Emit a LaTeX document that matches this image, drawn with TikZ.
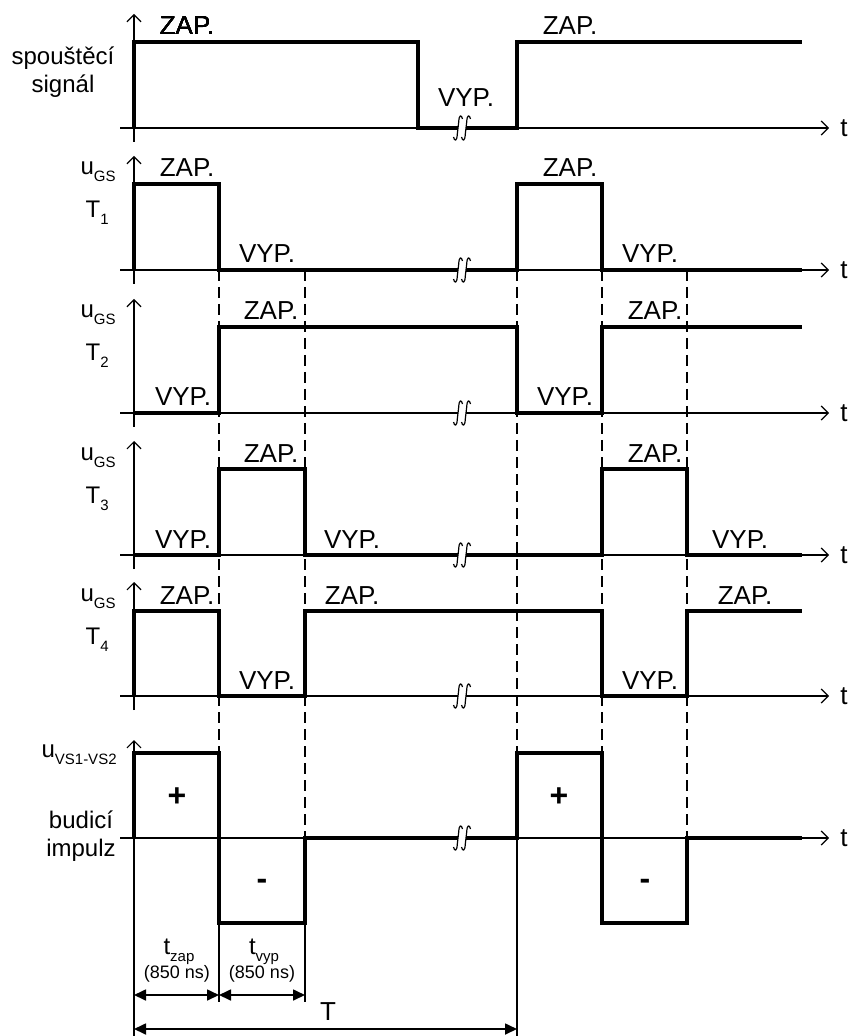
\documentclass[tikz,border=0pt]{standalone}
\usepackage{fontspec}
\setmainfont{Liberation Sans}
\usetikzlibrary{arrows.meta}

\newcommand{\lowsub}[1]{\raisebox{-3.5pt}{\fontsize{7.5}{8}\selectfont #1}}
% break mark on a time axis
\newcommand{\breakmark}[2]{%
  \begin{scope}[shift={(#1,#2)}]
    \fill[white] (-4,-2.5) rectangle (4,2.5);
    \foreach \dx in {-4,4}
      \draw[line width=0.6pt, shift={(\dx,0)}] (-4.5,9) .. controls (-3.5,13.5) and (-1,13.5) .. (-0.7,6) -- (0.7,-6) .. controls (1,-13.5) and (3.5,-13.5) .. (4.5,-9);
  \end{scope}}

\begin{document}
\begin{tikzpicture}[x=0.5pt, y=-0.5pt,
    axis/.style={line width=0.6pt, -{Straight Barb[length=3.5pt,width=7pt]}},
    sig/.style={line width=1.6pt},
    guide/.style={line width=1.3pt, dash pattern=on 5.5pt off 3pt},
    ext/.style={line width=0.6pt},
    dim/.style={line width=0.85pt, {Triangle[length=6pt,width=5.5pt]}-{Triangle[length=6pt,width=5.5pt]}},
    lbl/.style={anchor=base, inner sep=0pt},
    state/.style={lbl, font=\fontsize{13}{15}\selectfont},
    sign/.style={font=\fontsize{16}{16}\selectfont\bfseries},
    every node/.style={font=\fontsize{12}{14}\selectfont}]
    \useasboundingbox (0,0) rectangle (851,1036);
    % Axes
    \foreach \n/\y/\ytop/\ybot in {1/128/14/142, 2/270/156/284, 3/413/299/427, 4/555/441/569, 5/696/582/710, 6/838/740/1036} {
        \draw[axis] (120,\y) -- (829,\y);
        \node[inner sep=0pt, font=\fontsize{13}{15}\selectfont] (t\n) at (844,\y) {t};
        \draw[axis] (134,\ybot) -- (134,\ytop);
    }
    % Dashed guides
    \draw[guide] (219,270) -- (219,753);
    \draw[guide] (305,270) -- (305,838);
    \draw[guide] (517,270) -- (517,753);
    \draw[guide] (602,270) -- (602,753);
    \draw[guide] (687,270) -- (687,838);
    % Extension lines
    \draw[ext] (219,923) -- (219,1002);
    \draw[ext] (305,923) -- (305,1002);
    \draw[ext] (517,838) -- (517,1036);
    % Trigger signal
    \draw[sig] (134,128) -- (134,42) -- (418,42) -- (418,128) -- (517,128) -- (517,42) -- (802,42);
    % Gate voltages T1 .. T4
    \draw[sig] (134,270) -- (134,184) -- (219,184) -- (219,270) -- (517,270) -- (517,184) -- (602,184) -- (602,270) -- (802,270);
    \draw[sig] (134,413) -- (219,413) -- (219,327) -- (517,327) -- (517,413) -- (602,413) -- (602,327) -- (802,327);
    \draw[sig] (134,555) -- (219,555) -- (219,469) -- (305,469) -- (305,555) -- (602,555) -- (602,469) -- (687,469) -- (687,555) -- (802,555);
    \draw[sig] (134,696) -- (134,611) -- (219,611) -- (219,696) -- (305,696) -- (305,611) -- (602,611) -- (602,696) -- (687,696) -- (687,611) -- (802,611);
    % Drive pulse
    \draw[sig] (134,838) -- (134,753) -- (219,753) -- (219,923) -- (305,923) -- (305,838) -- (517,838) -- (517,753) -- (602,753) -- (602,923) -- (687,923) -- (687,838) -- (802,838);
    % Breaks
    \foreach \y in {128,270,413,555,696,838}
        \breakmark{462}{\y}
    % State labels
    \node[state] (on1a) at (187,35) {ZAP.};
    \node[state] (off1a) at (466,107) {VYP.};
    \node[state] (on1b) at (570,35) {ZAP.};
    \node[state] (on2a) at (187,177) {ZAP.};
    \node[state] (off2a) at (267,263) {VYP.};
    \node[state] (on2b) at (570,177) {ZAP.};
    \node[state] (off2b) at (650,263) {VYP.};
    \node[state] (off3a) at (183,406) {VYP.};
    \node[state] (on3a) at (271,320) {ZAP.};
    \node[state] (off3b) at (565,406) {VYP.};
    \node[state] (on3b) at (655,320) {ZAP.};
    \node[state] (off4a) at (183,548) {VYP.};
    \node[state] (on4a) at (271,462) {ZAP.};
    \node[state] (off4b) at (352,548) {VYP.};
    \node[state] (on4b) at (655,462) {ZAP.};
    \node[state] (off4c) at (740,548) {VYP.};
    \node[state] (on5a) at (187,604) {ZAP.};
    \node[state] (off5a) at (267,689) {VYP.};
    \node[state] (on5b) at (352,604) {ZAP.};
    \node[state] (off5b) at (650,689) {VYP.};
    \node[state] (on5c) at (745,604) {ZAP.};
    \node[sign] (pos1) at (177,797) {+};
    \node[sign] (pos2) at (559,797) {+};
    \node[sign] (neg1) at (262,884) {-};
    \node[sign] (neg2) at (645,884) {-};
    % Row names
    \node[align=center] (trig) at (63,72) {spouštěcí\\signál};
    \foreach \n/\y in {1/270,2/413,3/555,4/696} {
        \node[anchor=base east, inner sep=0pt] (ug\n) at (116,\y-95) {u\lowsub{GS}};
        \node[anchor=base east, inner sep=0pt] (tr\n) at (109,\y-52) {T\lowsub{\n}};
    }
    \node[anchor=base east, inner sep=0pt] (uvs) at (117,757) {u\lowsub{VS1-VS2}};
    \node[align=center] (drv) at (81,836) {budicí\\impulz};
    % Times
    \coordinate (d0) at (134,995);
    \coordinate (d1) at (219,995);
    \coordinate (d2) at (305,995);
    \coordinate (p0) at (134,1029);
    \coordinate (p1) at (517,1029);
    \draw[dim] (d0) -- (d1);
    \draw[dim] (d1) -- (d2);
    \draw[dim] (p0) -- (p1);
    \node[lbl] (tz) at (179,954) {t\lowsub{zap}};
    \node[lbl, font=\fontsize{9}{10}\selectfont] (tzn) at (177,978) {(850 ns)};
    \node[lbl] (tv) at (264,954) {t\lowsub{vyp}};
    \node[lbl, font=\fontsize{9}{10}\selectfont] (tvn) at (262,978) {(850 ns)};
    \node[lbl, font=\fontsize{13}{15}\selectfont] (tp) at (328,1020) {T};
\end{tikzpicture}
\end{document}
